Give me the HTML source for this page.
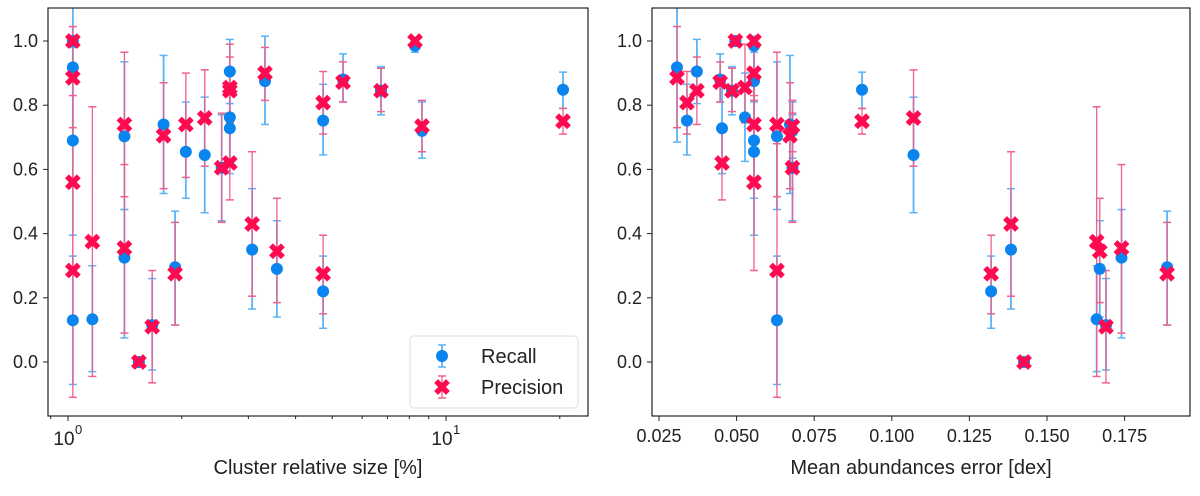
<!DOCTYPE html>
<html><head><meta charset="utf-8"><style>
body{margin:0;background:#fff;width:1200px;height:491px;overflow:hidden;font-family:"Liberation Sans",sans-serif}
svg text{font-family:"Liberation Sans",sans-serif;fill:#222}
</style></head><body>
<svg id="fig" width="1200" height="491" viewBox="0 0 1200 491" xmlns="http://www.w3.org/2000/svg"></svg>
<script>
const sizes=[1.03,1.03,1.03,1.03,1.16,1.41,1.41,1.54,1.67,1.79,1.92,2.05,2.30,2.55,2.68,2.68,2.68,3.07,3.32,3.57,4.73,4.73,5.34,6.73,8.28,8.64,20.4];
const errs=[0.0496,0.0308,0.0556,0.063,0.166,0.063,0.174,0.1426,0.169,0.0672,0.1887,0.0556,0.107,0.068,0.0372,0.0527,0.0453,0.1384,0.0556,0.167,0.034,0.132,0.0447,0.0485,0.0556,0.068,0.0904];
const recall=[1.0,0.918,0.69,0.13,0.133,0.703,0.325,0,0.115,0.74,0.295,0.655,0.645,0.605,0.905,0.762,0.728,0.35,0.875,0.29,0.752,0.22,0.88,0.845,0.985,0.72,0.848];
const recallLo=[1.0,0.685,0.395,-0.07,-0.03,0.475,0.075,0,-0.025,0.525,0.115,0.51,0.465,0.44,0.805,0.625,0.587,0.165,0.74,0.14,0.645,0.105,0.81,0.77,0.965,0.635,0.79];
const recallHi=[1.0,1.13,0.98,0.33,0.30,0.935,0.475,0,0.26,0.955,0.47,0.81,0.825,0.77,1.005,0.9,0.87,0.54,1.015,0.44,0.865,0.33,0.96,0.92,1.0,0.81,0.903];
const prec=[1.0,0.885,0.56,0.285,0.375,0.74,0.355,0,0.11,0.705,0.275,0.74,0.76,0.605,0.845,0.855,0.62,0.43,0.9,0.345,0.808,0.275,0.872,0.845,1.0,0.735,0.75];
const precLo=[1.0,0.73,0.285,-0.11,-0.045,0.515,0.09,0,-0.065,0.54,0.115,0.575,0.61,0.435,0.74,0.745,0.505,0.205,0.815,0.185,0.71,0.15,0.81,0.78,1.0,0.655,0.71];
const precHi=[1.0,1.045,0.83,0.68,0.795,0.965,0.615,0,0.285,0.87,0.435,0.9,0.91,0.775,0.95,0.99,0.735,0.655,0.98,0.51,0.905,0.395,0.935,0.915,1.0,0.815,0.79];
const yTicks=[0.0,0.2,0.4,0.6,0.8,1.0];
const xTicksRight=[0.025,0.050,0.075,0.100,0.125,0.150,0.175];

const NS="http://www.w3.org/2000/svg";
const svg=document.getElementById('fig');
function el(tag,attrs,parent){const e=document.createElementNS(NS,tag);for(const k in attrs)e.setAttribute(k,attrs[k]);(parent||svg).appendChild(e);return e;}
const plotTop=8,plotBot=416;
function yS(v){return 362-v*321;}
const L={x0:48,x1:588}, R={x0:652,x1:1190};
function xL(v){return 68+Math.log10(v)*378;}
function xR(v){return 659+(v-0.025)*3104;}
const BLUE="#0a84ef", BLUEBAR="#5cb3f5", RED="#ff0a50", REDBAR="#f0608a";
function xMark(x,y,parent){
  return el('path',{d:`M${x-4},${y-4}L${x+4},${y+4}M${x+4},${y-4}L${x-4},${y+4}`,stroke:RED,'stroke-width':5.5,'stroke-linecap':'square'},parent);
}

function panel(P,name,xf,xs,xlabel){
  const g=el('g',{});
  
  
  yTicks.forEach(t=>{
    const y=yS(t);
    el('line',{x1:P.x0-5,x2:P.x0,y1:y,y2:y,stroke:'#222','stroke-width':1},g);
    const tx=el('text',{x:P.x0-10,y:y+6,'font-size':18,'text-anchor':'end'},g);
    tx.textContent=t.toFixed(1);
    
    
  });
  const eb=el('g',{},g);
  
  
  function bar(x,lo,hi,c,w){
    if(hi-lo<=0)return;
    el('line',{x1:x,x2:x,y1:yS(lo),y2:yS(hi),stroke:c,'stroke-width':w},eb);
    el('line',{x1:x-4,x2:x+4,y1:yS(lo),y2:yS(lo),stroke:c,'stroke-width':1.5},eb);
    el('line',{x1:x-4,x2:x+4,y1:yS(hi),y2:yS(hi),stroke:c,'stroke-width':1.5},eb);
  }
  for(let i=0;i<xs.length;i++){
    bar(xf(xs[i]),recallLo[i],recallHi[i],BLUEBAR,1.8);
  }
  for(let i=0;i<xs.length;i++){
    bar(xf(xs[i]),precLo[i],precHi[i],REDBAR,1.3);
  }
  for(let i=0;i<xs.length;i++){
    const c=el('circle',{cx:xf(xs[i]),cy:yS(recall[i]),r:6,fill:BLUE},g);
    
    
  }
  for(let i=0;i<xs.length;i++){
    const m=xMark(xf(xs[i]),yS(prec[i]),g);
    
    
  }
  el('rect',{x:P.x0,y:0,width:P.x1-P.x0,height:plotTop,fill:'#fff'},g);
  const f=el('rect',{x:P.x0,y:plotTop,width:P.x1-P.x0,height:plotBot-plotTop,fill:'none',stroke:'#222','stroke-width':1.2},g);
  
  
  const xl=el('text',{x:(P.x0+P.x1)/2,y:474,'font-size':20,'text-anchor':'middle'},g);
  xl.textContent=xlabel;
  
  
  return g;
}
const gl=panel(L,'left-chart',xL,sizes,'Cluster relative size [%]');
const gr=panel(R,'right-chart',xR,errs,'Mean abundances error [dex]');
[1,10].forEach((d,k)=>{
  const x=xL(d);
  el('line',{x1:x,x2:x,y1:plotBot,y2:plotBot+5,stroke:'#222'},gl);
  const t=el('text',{x:x-4,y:445,'font-size':19,'text-anchor':'middle'},gl);
  t.textContent='10';
  
  
  const s=el('text',{x:x+7,y:434,'font-size':13},gl);
  s.textContent=String(k);
});
[0.9,2,3,4,5,6,7,8,9,20].forEach(v=>{const x=xL(v);if(x>L.x0&&x<L.x1)el('line',{x1:x,x2:x,y1:plotBot,y2:plotBot+3,stroke:'#222'},gl);});
xTicksRight.forEach(t=>{
  const x=xR(t);
  el('line',{x1:x,x2:x,y1:plotBot,y2:plotBot+5,stroke:'#222'},gr);
  const tx=el('text',{x:x,y:442,'font-size':18,'text-anchor':'middle'},gr);
  tx.textContent=t.toFixed(3);
  
  
});
const lg=el('g',{},gl);


el('rect',{x:410,y:336,width:168,height:72,rx:4,fill:'#fff',stroke:'#ddd'},lg);
el('line',{x1:442,x2:442,y1:345,y2:367,stroke:BLUEBAR,'stroke-width':1.8},lg);
el('line',{x1:438,x2:446,y1:345,y2:345,stroke:BLUEBAR,'stroke-width':1.5},lg);
el('line',{x1:438,x2:446,y1:367,y2:367,stroke:BLUEBAR,'stroke-width':1.5},lg);
el('circle',{cx:442,cy:356,r:6,fill:BLUE},lg);
const t1=el('text',{x:481,y:363,'font-size':20},lg);t1.textContent='Recall';


el('line',{x1:442,x2:442,y1:376,y2:398,stroke:REDBAR,'stroke-width':1.3},lg);
el('line',{x1:438,x2:446,y1:376,y2:376,stroke:REDBAR,'stroke-width':1.5},lg);
el('line',{x1:438,x2:446,y1:398,y2:398,stroke:REDBAR,'stroke-width':1.5},lg);
xMark(442,387,lg);
const t2=el('text',{x:481,y:394,'font-size':20},lg);t2.textContent='Precision';


</script>
</body></html>
